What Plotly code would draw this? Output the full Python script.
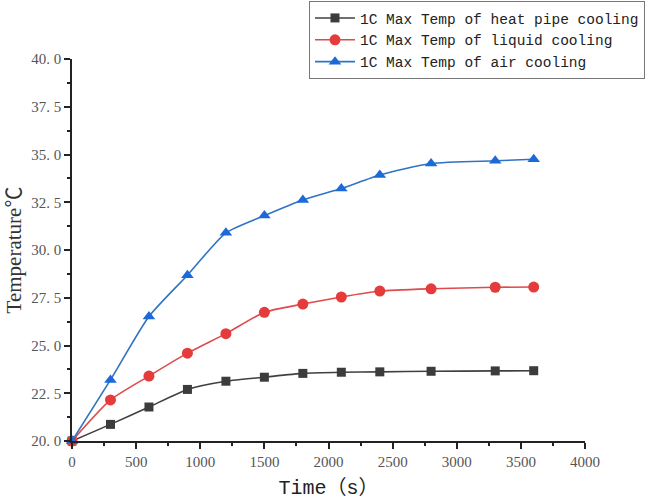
import plotly.graph_objects as go

time_s = [0, 300, 600, 900, 1200, 1500, 1800, 2100, 2400, 2800, 3300, 3600]
heat_pipe = [20.0, 20.87, 21.78, 22.7, 23.13, 23.34, 23.54, 23.6, 23.62, 23.65, 23.67, 23.68]
liquid = [20.0, 22.15, 23.4, 24.6, 25.62, 26.74, 27.17, 27.54, 27.85, 27.97, 28.05, 28.06]
air = [20.0, 23.2, 26.52, 28.68, 30.9, 31.8, 32.62, 33.22, 33.93, 34.53, 34.67, 34.75]

names = ["1C Max Temp of heat pipe cooling", "1C Max Temp of liquid cooling", "1C Max Temp of air cooling"]
y_ticks = [20, 22.5, 25, 27.5, 30, 32.5, 35, 37.5, 40]
y_ticktext = ["20. 0", "22. 5", "25. 0", "27. 5", "30. 0", "32. 5", "35. 0", "37. 5", "40. 0"]
x_ticks = [0, 500, 1000, 1500, 2000, 2500, 3000, 3500, 4000]

fig = go.Figure()
series = [
    (heat_pipe, names[0], "#404040", "#3c3c3c", "square", 9),
    (liquid, names[1], "#e04a4a", "#e53b3b", "circle", 11),
    (air, names[2], "#2f73c4", "#1b6ad8", "triangle-up", 11),
]
for ys, nm, lc, mc, sym, sz in series:
    fig.add_trace(go.Scatter(
        x=time_s, y=ys, name=nm, mode="lines+markers",
        line=dict(color=lc, width=1.6, shape="spline", smoothing=0.6),
        marker=dict(color=mc, symbol=sym, size=sz),
        cliponaxis=False,
    ))

fig.update_layout(
    width=666, height=500,
    margin=dict(l=72, r=81, t=59, b=59, autoexpand=False),
    paper_bgcolor="white", plot_bgcolor="white",
    font=dict(family="Liberation Serif, Noto Sans CJK SC", size=14, color="#333333"),
    showlegend=True,
    legend=dict(
        x=(309 - 72) / 513, y=(441 - 1) / 382, xanchor="left", yanchor="top",
        bgcolor="white", bordercolor="#777777", borderwidth=1,
        font=dict(family="Liberation Mono, Noto Sans CJK SC", size=14.5, color="#222222"),
        tracegroupgap=0, itemwidth=40,
    ),
)
fig.update_xaxes(
    range=[0, 4000], tickvals=x_ticks, showgrid=False, zeroline=False,
    showline=True, linecolor="#222222", linewidth=1.5,
    ticks="outside", ticklen=6, tickwidth=1.5, tickcolor="#222222",
    minor=dict(dtick=250, ticks="outside", ticklen=3, tickwidth=1.5, tickcolor="#222222"),
    tickfont=dict(family="Liberation Serif", size=15, color="#555555"),
    title=dict(text="Time（s）", font=dict(family="Liberation Mono, Noto Sans CJK SC", size=20, color="#222222"), standoff=13),
)
fig.update_yaxes(
    range=[20, 40], tickvals=y_ticks, ticktext=y_ticktext, showgrid=False, zeroline=False,
    showline=True, linecolor="#222222", linewidth=1.5,
    ticks="outside", ticklen=6, tickwidth=1.5, tickcolor="#222222",
    minor=dict(dtick=1.25, ticks="outside", ticklen=3, tickwidth=1.5, tickcolor="#222222"),
    tickfont=dict(family="Liberation Serif", size=15, color="#555555"),
    title=dict(text="Temperature℃", font=dict(family="Liberation Serif, Noto Sans CJK SC", size=21, color="#333333"), standoff=4),
)

fig.write_html(
    "out.html",
    config={"displayModeBar": False},
    post_script="document.body.style.margin='0';document.body.style.overflow='hidden';",
)
